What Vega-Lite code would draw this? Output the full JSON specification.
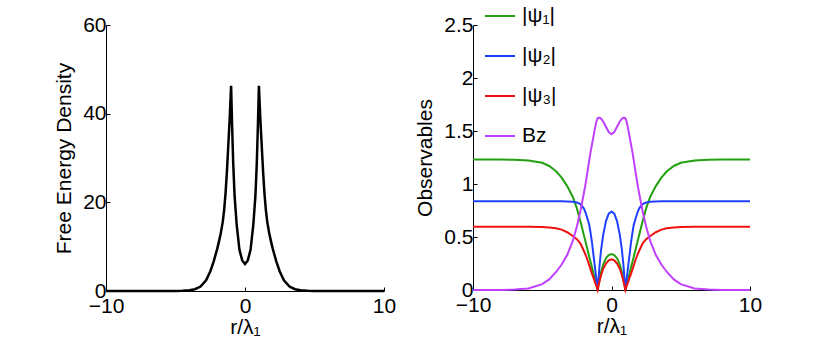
{
  "$schema": "https://vega.github.io/schema/vega-lite/v6.json",
  "padding": {"left": 53, "top": 0, "right": 0, "bottom": 0},
  "spacing": 18,
  "config": {
    "font": "Liberation Sans",
    "view": {"stroke": null},
    "axis": {"grid": false, "domainColor": "black", "domainWidth": 1, "tickColor": "black", "tickSize": -4, "labelFontSize": 21, "labelColor": "black", "titleFontSize": 21, "titleFontWeight": "normal", "titleColor": "black", "labelFont": "Liberation Sans", "titleFont": "Liberation Sans"},
    "axisX": {"labelPadding": 8, "titlePadding": 0, "labelFlush": false},
    "axisY": {"labelPadding": 4, "titlePadding": 8},
    "legend": {"orient": "none", "legendX": 378, "legendY": -25, "symbolType": "stroke", "symbolSize": 900, "symbolStrokeWidth": 2, "labelFontSize": 21, "labelColor": "black", "labelFont": "Liberation Sans", "rowPadding": 14, "labelOffset": 6, "padding": 0}
  },
  "data": {"values": [
    {"r": -10, "F": 0, "p1": 1.23, "p2": 0.837, "p3": 0.597, "bz": 0},
    {"r": -8, "F": 0, "p1": 1.23, "p2": 0.837, "p3": 0.597, "bz": 0.001},
    {"r": -7, "F": 0, "p1": 1.229, "p2": 0.837, "p3": 0.597, "bz": 0.004},
    {"r": -6, "F": 0.003, "p1": 1.222, "p2": 0.837, "p3": 0.596, "bz": 0.015},
    {"r": -5, "F": 0.02, "p1": 1.2, "p2": 0.837, "p3": 0.594, "bz": 0.055},
    {"r": -4.5, "F": 0.05, "p1": 1.17, "p2": 0.837, "p3": 0.59, "bz": 0.1},
    {"r": -4, "F": 0.15, "p1": 1.12, "p2": 0.837, "p3": 0.582, "bz": 0.17},
    {"r": -3.6, "F": 0.4, "p1": 1.06, "p2": 0.837, "p3": 0.57, "bz": 0.24},
    {"r": -3.2, "F": 1.0, "p1": 0.98, "p2": 0.836, "p3": 0.545, "bz": 0.33},
    {"r": -2.8, "F": 2.4, "p1": 0.88, "p2": 0.833, "p3": 0.51, "bz": 0.46},
    {"r": -2.5, "F": 4.4, "p1": 0.77, "p2": 0.825, "p3": 0.48, "bz": 0.6},
    {"r": -2.25, "F": 6.7, "p1": 0.65, "p2": 0.81, "p3": 0.44, "bz": 0.74},
    {"r": -2, "F": 9.5, "p1": 0.52, "p2": 0.77, "p3": 0.37, "bz": 0.91},
    {"r": -1.9, "F": 10.8, "p1": 0.47, "p2": 0.74, "p3": 0.34, "bz": 0.98},
    {"r": -1.75, "F": 12.9, "p1": 0.39, "p2": 0.68, "p3": 0.29, "bz": 1.1},
    {"r": -1.6, "F": 15.6, "p1": 0.31, "p2": 0.61, "p3": 0.23, "bz": 1.23},
    {"r": -1.5, "F": 18.3, "p1": 0.26, "p2": 0.53, "p3": 0.19, "bz": 1.31},
    {"r": -1.4, "F": 22, "p1": 0.21, "p2": 0.44, "p3": 0.15, "bz": 1.38},
    {"r": -1.3, "F": 27, "p1": 0.155, "p2": 0.33, "p3": 0.115, "bz": 1.45},
    {"r": -1.2, "F": 33, "p1": 0.1, "p2": 0.22, "p3": 0.075, "bz": 1.52},
    {"r": -1.1, "F": 39, "p1": 0.05, "p2": 0.11, "p3": 0.04, "bz": 1.585},
    {"r": -1, "F": 46.3, "p1": 0, "p2": 0, "p3": 0, "bz": 1.62},
    {"r": -0.93, "F": 37.5, "p1": 0.055, "p2": 0.12, "p3": 0.045, "bz": 1.625},
    {"r": -0.85, "F": 29, "p1": 0.11, "p2": 0.25, "p3": 0.09, "bz": 1.625},
    {"r": -0.75, "F": 21.5, "p1": 0.17, "p2": 0.38, "p3": 0.14, "bz": 1.615},
    {"r": -0.6, "F": 15, "p1": 0.24, "p2": 0.52, "p3": 0.2, "bz": 1.59},
    {"r": -0.4, "F": 9.3, "p1": 0.3, "p2": 0.65, "p3": 0.25, "bz": 1.54},
    {"r": -0.2, "F": 6.9, "p1": 0.33, "p2": 0.72, "p3": 0.28, "bz": 1.49},
    {"r": 0, "F": 6.1, "p1": 0.34, "p2": 0.74, "p3": 0.29, "bz": 1.47},
    {"r": 0.2, "F": 6.9, "p1": 0.33, "p2": 0.72, "p3": 0.28, "bz": 1.49},
    {"r": 0.4, "F": 9.3, "p1": 0.3, "p2": 0.65, "p3": 0.25, "bz": 1.54},
    {"r": 0.6, "F": 15, "p1": 0.24, "p2": 0.52, "p3": 0.2, "bz": 1.59},
    {"r": 0.75, "F": 21.5, "p1": 0.17, "p2": 0.38, "p3": 0.14, "bz": 1.615},
    {"r": 0.85, "F": 29, "p1": 0.11, "p2": 0.25, "p3": 0.09, "bz": 1.625},
    {"r": 0.93, "F": 37.5, "p1": 0.055, "p2": 0.12, "p3": 0.045, "bz": 1.625},
    {"r": 1, "F": 46.3, "p1": 0, "p2": 0, "p3": 0, "bz": 1.62},
    {"r": 1.1, "F": 39, "p1": 0.05, "p2": 0.11, "p3": 0.04, "bz": 1.585},
    {"r": 1.2, "F": 33, "p1": 0.1, "p2": 0.22, "p3": 0.075, "bz": 1.52},
    {"r": 1.3, "F": 27, "p1": 0.155, "p2": 0.33, "p3": 0.115, "bz": 1.45},
    {"r": 1.4, "F": 22, "p1": 0.21, "p2": 0.44, "p3": 0.15, "bz": 1.38},
    {"r": 1.5, "F": 18.3, "p1": 0.26, "p2": 0.53, "p3": 0.19, "bz": 1.31},
    {"r": 1.6, "F": 15.6, "p1": 0.31, "p2": 0.61, "p3": 0.23, "bz": 1.23},
    {"r": 1.75, "F": 12.9, "p1": 0.39, "p2": 0.68, "p3": 0.29, "bz": 1.1},
    {"r": 1.9, "F": 10.8, "p1": 0.47, "p2": 0.74, "p3": 0.34, "bz": 0.98},
    {"r": 2, "F": 9.5, "p1": 0.52, "p2": 0.77, "p3": 0.37, "bz": 0.91},
    {"r": 2.25, "F": 6.7, "p1": 0.65, "p2": 0.81, "p3": 0.44, "bz": 0.74},
    {"r": 2.5, "F": 4.4, "p1": 0.77, "p2": 0.825, "p3": 0.48, "bz": 0.6},
    {"r": 2.8, "F": 2.4, "p1": 0.88, "p2": 0.833, "p3": 0.51, "bz": 0.46},
    {"r": 3.2, "F": 1.0, "p1": 0.98, "p2": 0.836, "p3": 0.545, "bz": 0.33},
    {"r": 3.6, "F": 0.4, "p1": 1.06, "p2": 0.837, "p3": 0.57, "bz": 0.24},
    {"r": 4, "F": 0.15, "p1": 1.12, "p2": 0.837, "p3": 0.582, "bz": 0.17},
    {"r": 4.5, "F": 0.05, "p1": 1.17, "p2": 0.837, "p3": 0.59, "bz": 0.1},
    {"r": 5, "F": 0.02, "p1": 1.2, "p2": 0.837, "p3": 0.594, "bz": 0.055},
    {"r": 6, "F": 0.003, "p1": 1.222, "p2": 0.837, "p3": 0.596, "bz": 0.015},
    {"r": 7, "F": 0, "p1": 1.229, "p2": 0.837, "p3": 0.597, "bz": 0.004},
    {"r": 8, "F": 0, "p1": 1.23, "p2": 0.837, "p3": 0.597, "bz": 0.001},
    {"r": 10, "F": 0, "p1": 1.23, "p2": 0.837, "p3": 0.597, "bz": 0}
  ]},
  "hconcat": [
    {
      "width": 278,
      "height": 266,
      "mark": {"type": "line", "color": "black", "strokeWidth": 2.5, "interpolate": "linear"},
      "encoding": {
        "x": {"field": "r", "type": "quantitative", "scale": {"domain": [-10, 10]}, "axis": {"values": [-10, 0, 10], "format": "~f", "title": "r/λ₁"}},
        "y": {"field": "F", "type": "quantitative", "scale": {"domain": [0, 60]}, "axis": {"values": [0, 20, 40, 60], "format": "~f", "title": "Free Energy Density"}}
      }
    },
    {
      "width": 277,
      "height": 265,
      "transform": [{"fold": ["p1", "p2", "p3", "bz"], "as": ["series", "val"]}],
      "mark": {"type": "line", "strokeWidth": 2, "interpolate": "linear", "clip": false},
      "encoding": {
        "x": {"field": "r", "type": "quantitative", "scale": {"domain": [-10, 10]}, "axis": {"values": [-10, 0, 10], "format": "~f", "title": "r/λ₁"}},
        "y": {"field": "val", "type": "quantitative", "scale": {"domain": [0, 2.5]}, "axis": {"values": [0, 0.5, 1, 1.5, 2, 2.5], "format": "~f", "title": "Observables"}},
        "color": {
          "field": "series",
          "type": "nominal",
          "scale": {"domain": ["p1", "p2", "p3", "bz"], "range": ["#22a010", "#2040ff", "#f01010", "#c040ff"]},
          "legend": {"title": null, "labelExpr": "datum.label == 'p1' ? '|ψ₁|' : datum.label == 'p2' ? '|ψ₂|' : datum.label == 'p3' ? '|ψ₃|' : 'Bz'"}
        }
      }
    }
  ]
}
